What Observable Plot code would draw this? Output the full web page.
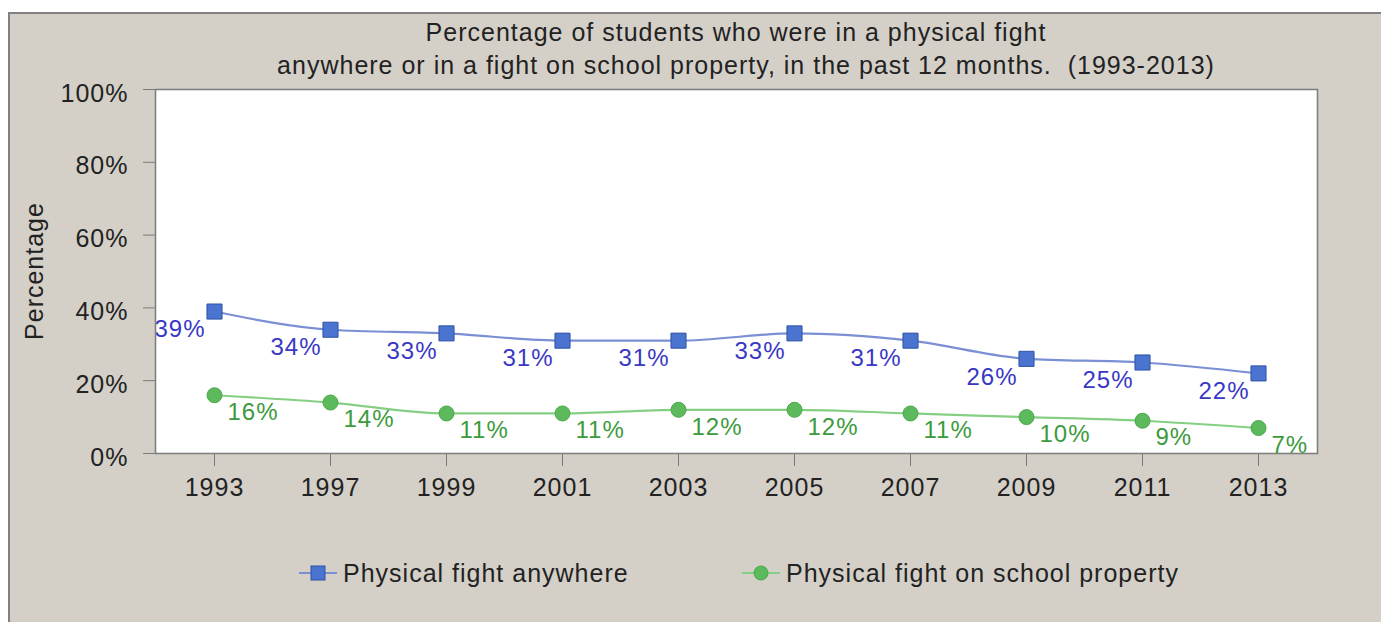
<!DOCTYPE html>
<html>
<head>
<meta charset="utf-8">
<script src="https://cdn.jsdelivr.net/npm/d3@7"></script>
<script src="https://cdn.jsdelivr.net/npm/@observablehq/plot@0.6"></script>
<style>
  body { margin: 0; background: #ffffff; }
  #wrap { position: relative; width: 1381px; height: 622px; overflow: hidden;
          font-family: "Liberation Sans", Arial, sans-serif; letter-spacing: 1px; color: #222; }
  #panel { position: absolute; left: 8px; top: 12px; right: 0; bottom: 0;
           background: #d4d0c8; border-left: 2px solid #808080; border-top: 2px solid #808080; }
  .title { position: absolute; font-size: 25px; line-height: 25px; white-space: pre;
           transform: translateX(-50%); }
  #ylabel { position: absolute; left: 34px; top: 271px; font-size: 25px; line-height: 25px;
            transform: translate(-50%, -50%) rotate(-90deg); white-space: pre; }
  #chart { position: absolute; left: 0; top: 0; }
  .leg { position: absolute; top: 560px; height: 26px; display: flex; align-items: center;
         font-size: 25px; white-space: pre; }
  .leg svg { display: block; margin-right: 6px; }
</style>
</head>
<body>
<div id="wrap">
  <div id="panel"></div>
  <div class="title" style="left:736px; top:20px;">Percentage of students who were in a physical fight</div>
  <div class="title" style="left:746px; top:53px;">anywhere or in a fight on school property, in the past 12 months.  (1993-2013)</div>
  <div id="ylabel">Percentage</div>
  <div id="chart"></div>
  <div class="leg" id="leg1" style="left:299px;"></div>
  <div class="leg" id="leg2" style="left:742px;"></div>
</div>
<script>
const years = ["1993", "1997", "1999", "2001", "2003", "2005", "2007", "2009", "2011", "2013"];
const anywhere = [39, 34, 33, 31, 31, 33, 31, 26, 25, 22];
const school = [16, 14, 11, 11, 12, 12, 11, 10, 9, 7];
const yTicks = [0, 20, 40, 60, 80, 100];
const seriesNames = ["Physical fight anywhere", "Physical fight on school property"];

const blueLine = "#7b8fd4", blueFill = "#4a74cf", blueStroke = "#2e52a6", blueText = "#3838c4";
const greenLine = "#84cf84", greenFill = "#5cba5c", greenStroke = "#48a848", greenText = "#3c9a3c";

const rowsA = years.map((y, i) => ({year: y, value: anywhere[i]}));
const rowsS = years.map((y, i) => ({year: y, value: school[i]}));

const chart = Plot.plot({
  width: 1381,
  height: 520,
  marginLeft: 155,
  marginRight: 64,
  marginTop: 89,
  marginBottom: 67,
  style: "background: transparent; font-family: 'Liberation Sans', Arial, sans-serif; letter-spacing: 1px; overflow: visible;",
  x: {type: "point", domain: years, padding: 0.5},
  y: {domain: [0, 100]},
  marks: [
    Plot.frame({fill: "white", stroke: "none"}),
    // tick marks
    Plot.axisY({ticks: yTicks, tickFormat: () => "", tickSize: 12, label: null, stroke: "#7a7a7a"}),
    // tick labels, sitting slightly below their ticks as in the original
    Plot.axisY({ticks: yTicks, tickFormat: d => d + "%", tickSize: 0, tickPadding: 27, dy: 4,
                fontSize: 25, label: null, fill: "#222"}),
    Plot.axisX({tickSize: 13, tickPadding: 12, fontSize: 25, label: null,
                stroke: "#7a7a7a", fill: "#222"}),
    Plot.line(rowsS, {x: "year", y: "value", stroke: greenLine, strokeWidth: 2.2, curve: "monotone-x"}),
    Plot.line(rowsA, {x: "year", y: "value", stroke: blueLine, strokeWidth: 2.2, curve: "monotone-x"}),
    Plot.dot(rowsS, {x: "year", y: "value", symbol: "circle", r: 7.5, fill: greenFill, stroke: greenStroke, strokeWidth: 1}),
    Plot.dot(rowsA, {x: "year", y: "value", symbol: "square", r: 8.5, fill: blueFill, stroke: blueStroke, strokeWidth: 1}),
    Plot.text(rowsA, {x: "year", y: "value", text: d => d.value + "%", textAnchor: "end",
                      dx: -9, dy: 18, fontSize: 24, fill: blueText, clip: true}),
    Plot.text(rowsS, {x: "year", y: "value", text: d => d.value + "%", textAnchor: "start",
                      dx: 13, dy: 17, fontSize: 24, fill: greenText, clip: true}),
    Plot.frame({stroke: "#808080", strokeWidth: 1.6})
  ]
});
document.getElementById("chart").appendChild(chart);

function legendItem(el, name, sym, lineColor, fill, stroke) {
  const w = 38, h = 26;
  const svg = d3.create("svg").attr("width", w).attr("height", h);
  svg.append("line").attr("x1", 0).attr("x2", w).attr("y1", h / 2).attr("y2", h / 2)
    .attr("stroke", lineColor).attr("stroke-width", 2.2);
  if (sym === "square") {
    svg.append("rect").attr("x", w / 2 - 7).attr("y", h / 2 - 7).attr("width", 14).attr("height", 14)
      .attr("fill", fill).attr("stroke", stroke);
  } else {
    svg.append("circle").attr("cx", w / 2).attr("cy", h / 2).attr("r", 7)
      .attr("fill", fill).attr("stroke", stroke);
  }
  el.appendChild(svg.node());
  const span = document.createElement("span");
  span.textContent = name;
  el.appendChild(span);
}
legendItem(document.getElementById("leg1"), seriesNames[0], "square", blueLine, blueFill, blueStroke);
legendItem(document.getElementById("leg2"), seriesNames[1], "circle", greenLine, greenFill, greenStroke);
</script>
</body>
</html>
